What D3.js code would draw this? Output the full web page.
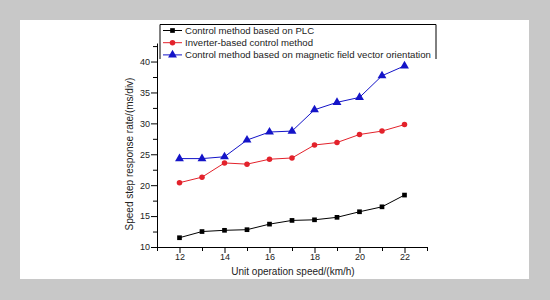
<!DOCTYPE html>
<html>
<head>
<meta charset="utf-8">
<script src="https://cdn.jsdelivr.net/npm/d3@7"></script>
<style>
  body { margin: 0; background: #c8c8c8; }
  svg { display: block; font-family: "Liberation Sans", Arial, sans-serif; }
</style>
</head>
<body>
<div id="chart"></div>
<script>
// chart data
const speeds = [12, 13, 14, 15, 16, 17, 18, 19, 20, 21, 22];
const plcValues = [11.5, 12.5, 12.7, 12.8, 13.7, 14.3, 14.4, 14.8, 15.7, 16.5, 18.4];
const inverterValues = [20.4, 21.3, 23.6, 23.4, 24.2, 24.4, 26.5, 26.9, 28.2, 28.75, 29.8];
const vectorValues = [24.3, 24.3, 24.6, 27.3, 28.6, 28.75, 32.2, 33.4, 34.2, 37.7, 39.3];
const seriesNames = [
  "Control method based on PLC",
  "Inverter-based control method",
  "Control method based on magnetic field vector orientation"
];
const xTickLabels = [12, 14, 16, 18, 20, 22];
const yTickLabels = [10, 15, 20, 25, 30, 35, 40];

const width = 550;
const height = 300;
const margin = {left: 157, right: 123, top: 43, bottom: 53};

const svg = d3.select("#chart")
  .append("svg")
  .attr("width", width)
  .attr("height", height);

// white panel
svg.append("rect")
  .attr("x", 20).attr("y", 20)
  .attr("width", 509).attr("height", 259)
  .attr("fill", "#fff");

const xScale = d3.scaleLinear().domain([11, 23]).range([margin.left, width - margin.right]);
const yScale = d3.scaleLinear().domain([10, 43]).range([height - margin.bottom, margin.top]);

// x axis: minor ticks every 1, labels on even values
const xAxis = svg.append("g")
  .attr("transform", `translate(0,${height - margin.bottom})`)
  .call(d3.axisBottom(xScale).tickValues(d3.range(11, 24)).tickSize(4).tickSizeOuter(0)
    .tickFormat(d => xTickLabels.includes(d) ? d : ""));
xAxis.selectAll("text").attr("font-size", "9px").attr("fill", "#222").attr("dy", "0.65em");
xAxis.selectAll("line").filter(d => xTickLabels.includes(d)).attr("y2", 6);

// y axis: minor ticks every 2.5
const yAxis = svg.append("g")
  .attr("transform", `translate(${margin.left},0)`)
  .call(d3.axisLeft(yScale).tickValues(d3.range(10, 43, 2.5)).tickSize(4).tickSizeOuter(0)
    .tickFormat(d => yTickLabels.includes(d) ? d : ""));
yAxis.selectAll("text").attr("font-size", "9px").attr("fill", "#222").attr("x", -7);
yAxis.selectAll("line").filter(d => yTickLabels.includes(d)).attr("x2", -6);
svg.selectAll(".domain").attr("stroke", "#000");

// axis titles
svg.append("text")
  .attr("x", 293).attr("y", 275)
  .attr("text-anchor", "middle")
  .attr("font-size", "10px")
  .attr("fill", "#222")
  .text("Unit operation speed/(km/h)");

svg.append("text")
  .attr("transform", "translate(133,154) rotate(-90)")
  .attr("text-anchor", "middle")
  .attr("font-size", "10px")
  .attr("fill", "#222")
  .text("Speed step response rate/(ms/div)");

const series = [
  {name: seriesNames[0], values: plcValues, color: "#000000", shape: d3.symbolSquare, size: 22},
  {name: seriesNames[1], values: inverterValues, color: "#e3222b", shape: d3.symbolCircle, size: 24},
  {name: seriesNames[2], values: vectorValues, color: "#1414c8", shape: d3.symbolTriangle, size: 34}
];

const line = d3.line()
  .x((d, i) => xScale(speeds[i]))
  .y(d => yScale(d));

series.forEach(function(s) {
  svg.append("path")
    .datum(s.values)
    .attr("fill", "none")
    .attr("stroke", s.color)
    .attr("stroke-width", 1)
    .attr("d", line);

  svg.selectAll(null)
    .data(s.values)
    .enter()
    .append("path")
      .attr("d", d3.symbol().type(s.shape).size(s.size))
      .attr("transform", (d, i) => `translate(${xScale(speeds[i])},${yScale(d)})`)
      .attr("fill", s.color);
});

// legend box (no bottom border)
const legend = svg.append("g");
legend.append("path")
  .attr("d", "M160,59V24.5H436V59")
  .attr("fill", "#fff")
  .attr("stroke", "#000")
  .attr("stroke-width", 1);

series.forEach(function(s, i) {
  const ly = 30.5 + i * 12.2;
  legend.append("line")
    .attr("x1", 163).attr("x2", 182)
    .attr("y1", ly).attr("y2", ly)
    .attr("stroke", s.color);
  legend.append("path")
    .attr("d", d3.symbol().type(s.shape).size(s.size))
    .attr("transform", `translate(172.5,${ly})`)
    .attr("fill", s.color);
  legend.append("text")
    .attr("x", 185).attr("y", ly)
    .attr("dy", "0.35em")
    .attr("font-size", "9.6px")
    .attr("fill", "#222")
    .text(s.name);
});
</script>
</body>
</html>
